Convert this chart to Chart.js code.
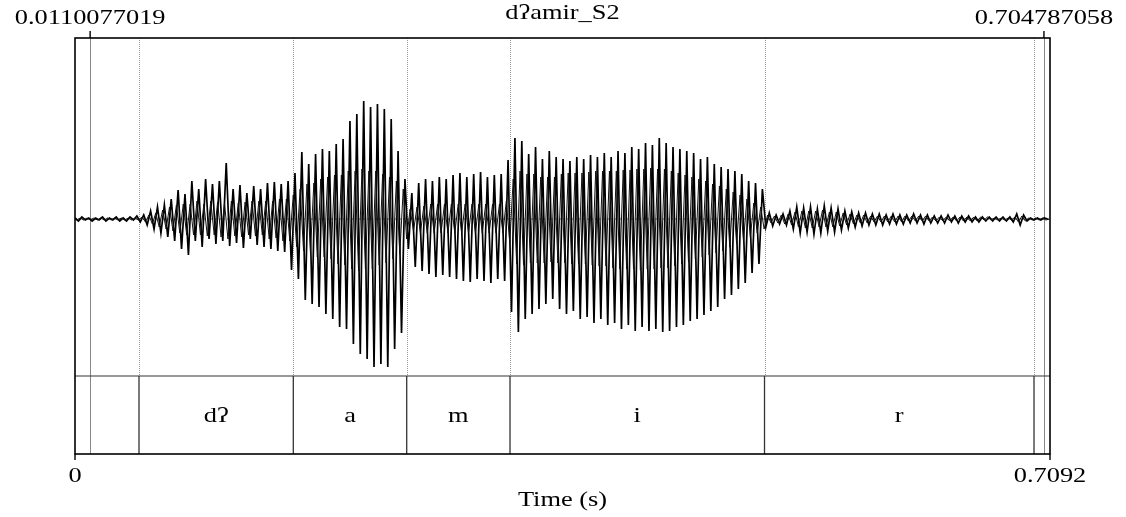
<!DOCTYPE html>
<html>
<head>
<meta charset="utf-8">
<title>dʔamir_S2</title>
<script src="https://cdn.jsdelivr.net/npm/chart.js@4"></script>
<style>
	body { margin: 0; background: #fff; }
	#wrap { width: 1126px; height: 517px; }
</style>
</head>
<body>
<div id="wrap"><canvas id="myChart" width="1126" height="517"></canvas></div>
<script>
const soundName = 'dʔamir_S2';
const totalDuration = 0.7092;
const selectionStart = 0.0110077019;
const selectionEnd = 0.704787058;
const sampleStep = 0.0025;

// interval tier
const boundaries = [0.04655, 0.15879, 0.24128, 0.31642, 0.50154, 0.69757];
const segmentLabels = ['', 'dʔ', 'a', 'm', 'i', 'r', ''];

// waveform: outer peaks, one every sampleStep
const ampSilence = [1, -2, 2, -1, 1, -2, 1, -1, 2, -2, 1, -1, 2, -2, 1, -2, 2, -1, 3];
const ampD = [-3, 4, -6, 8, -10, 12, -14, 14, -18, 20, -22, 29, -30, 25, -36, 38, -22, 30, -28, 40,
	-20, 35, -25, 38, -22, 56, -27, 30, -24, 34, -29, 26, -20, 33, -26, 30, -28, 36, -30, 37,
	-32, 35, -33, 38, -51];
const ampA = [46, -60, 67, -81, 55, -85, 65, -88, 70, -95, 68, -100, 75, -108, 80, -110, 98, -125, 105, -135,
	118, -140, 112, -148, 115, -145, 110, -148, 100, -130, 68, -114, 40];
const ampM = [-30, 26, -48, 36, -52, 40, -55, 38, -58, 42, -56, 40, -58, 44, -60, 46, -62, 42, -63, 45,
	-60, 47, -62, 42, -64, 44, -60, 45, -62, 59];
const ampI = [-93, 81, -113, 78, -100, 65, -95, 72, -90, 60, -85, 68, -80, 62, -90, 60, -95, 58, -92, 62,
	-100, 60, -98, 64, -104, 62, -100, 66, -106, 62, -104, 68, -110, 66, -106, 72, -112, 70, -108, 76,
	-112, 74, -110, 81, -113, 76, -112, 72, -108, 70, -106, 68, -102, 66, -100, 60, -96, 62, -92, 55,
	-88, 52, -80, 50, -76, 48, -70, 45, -64, 38, -54, 36, -45, 30];
const ampR = [-8, 6, -7, 4, -5, 5, -6, 8, -10, 12, -14, 11, -13, 12, -15, 10, -14, 13, -12, 11,
	-13, 10, -11, 8, -9, 7, -8, 6, -7, 6, -6, 5, -6, 5, -6, 4, -5, 5, -5, 4,
	-5, 4, -4, 5, -4, 4, -5, 4, -4, 3, -4, 3, -4, 4, -3, 3, -4, 3, -3, 3,
	-3, 2, -3, 2, -2, 2, -2, 2, -2, 2, -2, 2, -3, 5, -6, 4, -2, 1, -1, 1,
	-1, 1, 0];

// inner oscillation of the waveform, half a step later
const coreSilence = [1, 1, 1, 1, 1, 1, 1, 1, 1, 1, 1, 1, 1, 1, 1, 1, 1, 1, 1];
const coreD = [2, 3, 4, 5, 6, 8, 9, 10, 12, 12, 14, 14, 15, 16, 15, 16, 18, 16, 15, 17,
	18, 16, 17, 18, 16, 20, 18, 17, 16, 18, 17, 16, 18, 17, 18, 16, 18, 20, 18, 19,
	20, 22, 20, 22, 24];
const coreA = [28, 30, 32, 35, 33, 36, 38, 40, 38, 42, 40, 44, 45, 44, 46, 48, 50, 48, 52, 50,
	50, 48, 50, 48, 46, 45, 44, 42, 40, 38, 35, 30, 20];
const coreM = [10, 12, 12, 14, 13, 14, 15, 14, 15, 14, 15, 14, 15, 14, 15, 14, 15, 14, 15, 14,
	15, 14, 15, 14, 15, 14, 15, 14, 18, 24];
const coreI = [40, 45, 48, 46, 45, 44, 45, 44, 42, 44, 42, 43, 42, 44, 45, 44, 46, 45, 46, 45,
	46, 45, 47, 46, 48, 47, 48, 47, 48, 49, 48, 50, 49, 50, 49, 50, 50, 51, 50, 50,
	51, 50, 50, 49, 50, 49, 48, 47, 46, 45, 44, 43, 42, 40, 40, 38, 38, 36, 35, 34,
	33, 32, 30, 28, 27, 25, 24, 22, 20, 18, 16, 14, 12, 10];
const coreR = [4, 4, 3, 4, 4, 5, 5, 6, 7, 8, 8, 9, 8, 9, 8, 8, 9, 8, 7, 8,
	7, 7, 6, 6, 5, 5, 4, 4, 4, 4, 3, 3, 3, 3, 3, 3, 3, 3, 3, 3,
	3, 2, 3, 2, 3, 2, 3, 2, 2, 2, 2, 2, 2, 2, 2, 2, 2, 2, 2, 2,
	2, 2, 2, 1, 2, 1, 1, 1, 1, 1, 1, 1, 2, 3, 3, 2, 1, 1, 1, 1,
	1, 1, 0];

const amplitude = [...ampSilence, ...ampD, ...ampA, ...ampM, ...ampI, ...ampR];
const core = [...coreSilence, ...coreD, ...coreA, ...coreM, ...coreI, ...coreR];

const FONT = '22px "Liberation Serif", "Times New Roman", serif';
const STRETCH = 1.2;
const tierTopValue = -157;

const drawText = (ctx, txt, x, y, align) => {
	ctx.save();
	ctx.translate(x, y);
	ctx.scale(STRETCH, 1);
	ctx.font = FONT;
	ctx.fillStyle = '#000';
	ctx.textAlign = align;
	ctx.textBaseline = 'alphabetic';
	ctx.fillText(txt, 0, 0);
	ctx.restore();
};

const vline = (ctx, x, y0, y1, color, width, dash) => {
	ctx.save();
	ctx.strokeStyle = color;
	ctx.lineWidth = width;
	ctx.setLineDash(dash || []);
	ctx.beginPath();
	ctx.moveTo(x, y0);
	ctx.lineTo(x, y1);
	ctx.stroke();
	ctx.restore();
};

const praatPlugin = {
	id: 'praat',
	beforeDatasetsDraw(chart) {
		const { ctx, chartArea: area, scales } = chart;
		const xs = scales.x;
		const ys = scales.y;
		const tierTop = ys.getPixelForValue(tierTopValue);
		const y0 = ys.getPixelForValue(0);
		ctx.save();
		ctx.strokeStyle = '#666';
		ctx.lineWidth = 1;
		ctx.setLineDash([2, 2]);
		ctx.beginPath();
		ctx.moveTo(area.left, y0);
		ctx.lineTo(area.right, y0);
		ctx.stroke();
		ctx.restore();
		boundaries.forEach((t) => {
			vline(ctx, Math.round(xs.getPixelForValue(t)) + 0.5, area.top, tierTop, '#999', 1, [1, 1]);
		});
		[selectionStart, selectionEnd].forEach((t) => {
			vline(ctx, Math.round(xs.getPixelForValue(t)) + 0.5, area.top, area.bottom, '#888', 1);
		});
	},
	afterDatasetsDraw(chart) {
		const { ctx, chartArea: area, scales } = chart;
		const xs = scales.x;
		const ys = scales.y;
		const tierTop = ys.getPixelForValue(tierTopValue);

		// tier
		ctx.save();
		ctx.strokeStyle = '#333';
		ctx.lineWidth = 1.2;
		ctx.beginPath();
		ctx.moveTo(area.left, tierTop);
		ctx.lineTo(area.right, tierTop);
		ctx.stroke();
		ctx.restore();
		boundaries.forEach((t) => {
			vline(ctx, xs.getPixelForValue(t), tierTop, area.bottom, '#333', 1.3);
		});
		const edges = [0, ...boundaries, totalDuration];
		segmentLabels.forEach((lab, i) => {
			if (!lab) return;
			const xm = (xs.getPixelForValue(edges[i]) + xs.getPixelForValue(edges[i + 1])) / 2;
			drawText(ctx, lab, xm, tierTop + 46, 'center');
		});

		// frame
		ctx.save();
		ctx.strokeStyle = '#000';
		ctx.lineWidth = 1.6;
		ctx.strokeRect(area.left, area.top, area.right - area.left, area.bottom - area.top);
		ctx.restore();

		// selection marks
		[selectionStart, selectionEnd].forEach((t) => {
			const x = xs.getPixelForValue(t);
			vline(ctx, x, area.top - 7, area.top, '#000', 1.4);
			drawText(ctx, String(t), x, area.top - 14, 'center');
		});

		// time axis
		[0, totalDuration].forEach((t) => {
			const x = xs.getPixelForValue(t);
			vline(ctx, x, area.bottom, area.bottom + 6, '#000', 1.4);
			drawText(ctx, String(t), x, area.bottom + 28, 'center');
		});
		drawText(ctx, 'Time (s)', (area.left + area.right) / 2, area.bottom + 52, 'center');
		drawText(ctx, soundName, (area.left + area.right) / 2, 19, 'center');
	},
};

const showWaveform = () => {
	let outer = [];
	let inner = [];
	amplitude.map((a, i) => {
		const t = i * sampleStep;
		const s = i % 2 === 0 ? 1 : -1;
		outer.push({ x: t, y: a });
		inner.push({ x: t + sampleStep / 2, y: -s * (core[i] || 0) });
	});

	const ctx = document.getElementById('myChart').getContext('2d');
	new Chart(ctx, {
		type: 'line',
		data: {
			datasets: [
				{
					data: inner,
					borderColor: '#111',
					borderWidth: 1,
					pointRadius: 0,
					tension: 0,
					fill: false,
				},
				{
					data: outer,
					borderColor: '#000',
					borderWidth: 1.7,
					pointRadius: 0,
					tension: 0,
					fill: false,
				},
			],
		},
		options: {
			responsive: false,
			animation: false,
			devicePixelRatio: 1,
			layout: { padding: { left: 75, right: 76, top: 38, bottom: 63 } },
			plugins: { legend: { display: false }, tooltip: { enabled: false } },
			scales: {
				x: { type: 'linear', min: 0, max: totalDuration, display: false },
				y: { type: 'linear', min: -235, max: 181, display: false },
			},
		},
		plugins: [praatPlugin],
	});
};

showWaveform();
</script>
</body>
</html>
